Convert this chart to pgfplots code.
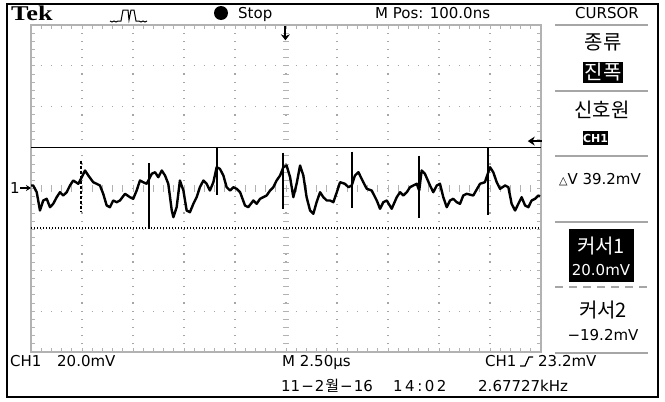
\documentclass[border=0pt]{standalone}
\usepackage{fontspec}
\usepackage{pgfplots}
\usepackage{pgfplotstable}
\pgfplotsset{compat=1.18}
\usetikzlibrary{arrows.meta}
\setmainfont{DejaVu Sans}
\newfontfamily\kr{Noto Sans CJK KR}
\newfontfamily\tekfont{Liberation Serif}
\newcommand\sz[1]{\fontsize{#1bp}{#1bp}\selectfont}

% CH1 trace: time (us) vs voltage (mV)
\pgfplotstableread{
t v
0.00 1.47
0.11 1.47
0.28 -1.81
0.44 -10.76
0.60 -5.87
0.77 -5.04
0.93 -9.14
1.09 -7.48
1.26 -4.25
1.42 -1.81
1.58 -3.42
1.75 -1.81
1.91 1.47
2.07 3.91
2.32 2.30
2.49 5.53
2.65 8.80
2.81 6.36
3.05 3.08
3.22 2.30
3.38 1.47
3.54 -2.59
3.71 -8.31
3.87 -9.14
4.03 -5.87
4.20 -6.70
4.36 -5.87
4.61 -2.59
4.85 -4.25
5.01 -5.04
5.18 -0.98
5.34 3.91
5.50 3.08
5.67 2.30
5.92 7.19
6.08 7.97
6.24 5.53
6.41 8.80
6.57 6.36
6.73 2.30
6.90 -10.76
6.98 -14.03
7.14 -9.14
7.30 3.91
7.47 -0.98
7.63 -10.76
7.79 -11.59
7.96 -7.48
8.12 -4.25
8.28 0.64
8.45 3.91
8.61 2.30
8.77 -0.98
8.94 3.08
9.10 10.42
9.26 9.63
9.43 6.36
9.59 0.64
9.76 -0.98
9.92 0.64
10.08 -0.15
10.25 -1.81
10.49 -8.31
10.65 -9.14
10.90 -5.87
11.06 -7.48
11.23 -5.04
11.55 -3.42
11.72 -0.98
11.88 0.64
12.04 3.91
12.21 6.36
12.37 10.42
12.53 11.25
12.70 5.53
12.86 -4.25
13.02 2.30
13.19 11.25
13.35 6.36
13.51 -4.25
13.68 -10.76
13.84 -12.37
14.00 -6.70
14.17 -1.81
14.33 -4.25
14.50 -5.87
14.66 -5.87
14.82 -6.70
14.99 -1.81
15.15 3.08
15.39 2.30
15.56 0.64
15.72 1.47
15.88 6.36
16.05 7.97
16.29 3.08
16.46 -0.15
16.70 -0.98
16.95 -5.87
17.11 -9.93
17.27 -6.70
17.44 -5.87
17.68 -9.93
17.93 -4.25
18.09 -1.81
18.25 -3.42
18.42 -1.81
18.58 0.64
18.74 1.47
18.91 2.30
19.03 -0.98
19.15 8.80
19.31 7.19
19.56 1.47
19.72 -1.81
19.89 1.47
20.05 2.30
20.21 -4.25
20.38 -9.14
20.54 -5.87
20.70 -5.04
20.87 -6.70
21.03 -7.48
21.19 -3.42
21.36 -2.59
21.68 -3.42
22.01 2.30
22.25 3.08
22.39 7.19
22.50 10.42
22.66 7.97
22.83 3.08
22.99 -0.15
23.24 1.47
23.40 0.64
23.56 -7.48
23.73 -10.76
23.89 -7.48
24.05 -4.25
24.22 -8.31
24.38 -9.14
24.54 -5.87
24.71 -5.04
24.87 -3.42
24.95 -3.91
}\trace

\begin{document}
\begin{tikzpicture}
\path[use as bounding box] (0,0) rectangle (665bp,-402bp);
\begin{axis}[
  at={(31bp,-352bp)}, anchor=south west,
  scale only axis, width=510bp, height=327bp,
  xmin=0, xmax=25, ymin=-80, ymax=80,
  xtick={0,2.5,...,25}, ytick={-80,-60,...,80},
  minor x tick num=4, minor y tick num=4,
  xticklabels={}, yticklabels={},
  tick align=inside,
  major tick length=4bp, minor tick length=4bp,
  tick style={black!30, line width=0.9bp},
  minor tick style={black!30, line width=0.9bp},
  axis line style={black!30, line width=1.2bp},
  grid=major,
  x grid style={black!35, line width=1.2bp, dash pattern=on 1.2bp off 6.975bp, dash phase=0.6bp},
  y grid style={black!35, line width=1.2bp, dash pattern=on 1.2bp off 9bp, dash phase=0.6bp},
  clip=false,
]
% centre cross tick marks
\pgfplotsinvokeforeach{1,...,49}{
  \draw[black!30, line width=0.9bp] (axis cs:#1*0.5,-1.5) -- (axis cs:#1*0.5,1.5);
}
\pgfplotsinvokeforeach{1,...,39}{
  \draw[black!30, line width=0.9bp] (axis cs:12.35,#1*4-80) -- (axis cs:12.65,#1*4-80);
}
% cursors
\addplot[black, line width=1.3bp] coordinates {(0,20) (25,20)};
\addplot[black, line width=1.6bp, dash pattern=on 1.4bp off 1.6bp] coordinates {(0,-19.2) (25,-19.2)};
% trace
\addplot[black, line width=2.4bp, line join=round] table[x=t, y=v] {\trace};
% glitch spikes
\addplot[black, line width=1.3bp, dash pattern=on 3bp off 2bp] coordinates {(2.45,13.7) (2.45,-10.8)};
\addplot[black, line width=1.3bp] coordinates {(5.78,12.4) (5.78,-19.6)};
\addplot[black, line width=1.3bp] coordinates {(9.12,19.6) (9.12,-3.4)};
\addplot[black, line width=1.3bp] coordinates {(12.35,17.6) (12.35,-9.8)};
\addplot[black, line width=1.3bp] coordinates {(15.74,18.1) (15.74,-9.3)};
\addplot[black, line width=1.3bp] coordinates {(19.02,16.1) (19.02,-14.2)};
\addplot[black, line width=1.3bp] coordinates {(22.40,19.6) (22.40,-13.2)};
% trigger level and position markers
\draw[black, line width=1.8bp, -{Stealth[length=7bp,width=9bp]}] (axis cs:25.05,23.2) -- (axis cs:24.35,23.2);
\draw[black, line width=1.8bp, -{Stealth[length=6bp,width=9bp]}] (axis cs:12.47,79.5) -- (axis cs:12.47,72.5);
\end{axis}

\begin{scope}[x=1bp,y=-1bp]
% outer frame
\draw[black, line width=2bp] (7,4) rectangle (658,397);
% top row
\node[anchor=west, inner sep=0, xscale=1.25] at (11,13) {\tekfont\bfseries\sz{21}Tek};
\draw[black, line width=1bp] (110,21) -- (112,22) -- (114,21) -- (116,22) -- (118,21) -- (121,21) -- (123,10) -- (128,10) -- (129,20) -- (131,10) -- (134,10) -- (136,21) -- (139,21) -- (141,22) -- (143,21) -- (145,22) -- (147,21);
\fill[black] (221,13) circle (7);
\node[anchor=base west, inner sep=0] at (238,18) {\sz{15}Stop};
\node[anchor=base west, inner sep=0] at (375,18) {\sz{15}M Pos: 100.0ns};
\node[inner sep=0] at (607,13) {\sz{15}CURSOR};
% right panel separators
\foreach \yy in {25,91,156,222,353} \draw[black!35, line width=1.2bp] (555,\yy) -- (648,\yy);
\draw[black!35, line width=1.2bp, dash pattern=on 8bp off 6bp] (555,287) -- (648,287);
% right panel text
\node[inner sep=0] at (603,42) {\kr\sz{20}종류};
\fill[black] (583,62) rectangle (623,83);
\node[inner sep=0, text=white] at (603,72.5) {\kr\sz{20}진폭};
\node[inner sep=0] at (602,110) {\kr\sz{20}신호원};
\fill[black] (583,131) rectangle (608,145);
\node[inner sep=0, text=white] at (595.5,138) {\bfseries\sz{11}CH1};
\node[inner sep=0] at (600,180) {\sz{15}{\sz{11}△}V 39.2mV};
\fill[black] (569,229) rectangle (634,282);
\node[inner sep=0, text=white] at (601,246) {\kr\sz{20}커서1};
\node[inner sep=0, text=white] at (601,270) {\sz{15}20.0mV};
\node[inner sep=0] at (603,310) {\kr\sz{20}커서2};
\node[inner sep=0] at (603,335) {\sz{15}−19.2mV};
% ground marker
\node[inner sep=0] at (15,188) {\sz{15}1};
\draw[black, line width=1.4bp, -{Stealth[length=5bp,width=6bp]}] (20,188) -- (31,188);
% bottom rows
\node[anchor=base west, inner sep=0] at (10,366) {\sz{15}CH1};
\node[anchor=base west, inner sep=0] at (57,366) {\sz{15}20.0mV};
\node[anchor=base west, inner sep=0] at (282,366) {\sz{15}M 2.50µs};
\node[anchor=base west, inner sep=0] at (485,366) {\sz{15}CH1};
\draw[black, line width=1.2bp] (520,366) -- (525,366) -- (529,357) -- (533,357);
\node[anchor=base west, inner sep=0] at (538,366) {\sz{15}23.2mV};
\node[anchor=base west, inner sep=0] at (281,391) {\sz{15}11\hspace{1bp}−\hspace{1bp}2\hspace{1bp}{\kr 월}\hspace{1bp}−\hspace{1bp}16};
\node[anchor=base west, inner sep=0] at (393,391) {\sz{15}1\hspace{2.5bp}4\hspace{2.5bp}:\hspace{2.5bp}0\hspace{2.5bp}2};
\node[anchor=base west, inner sep=0] at (478,391) {\sz{15}2.67727kHz};
\end{scope}
\end{tikzpicture}
\end{document}
